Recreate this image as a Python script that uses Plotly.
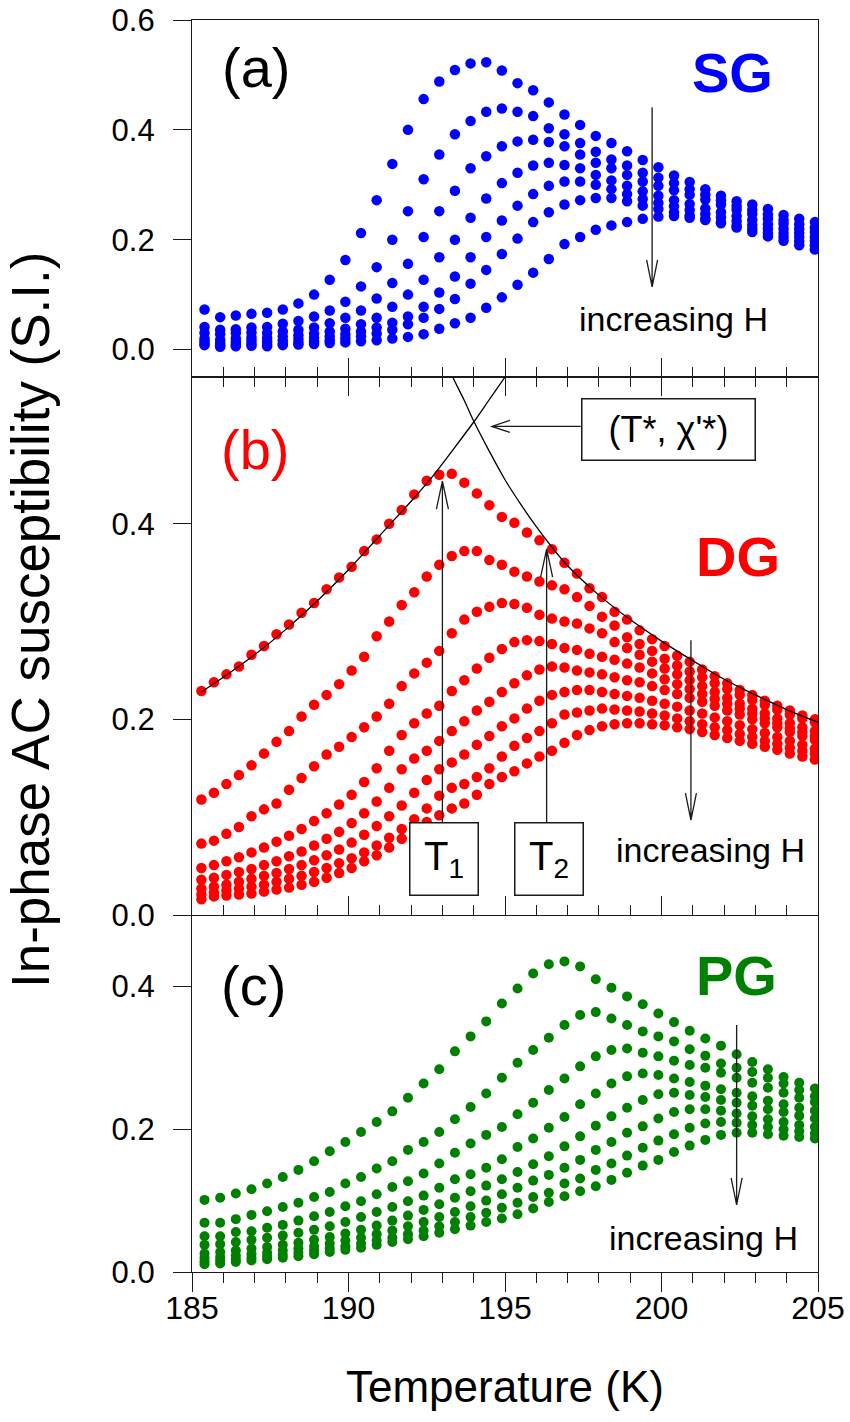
import math
import plotly.graph_objects as go

# ---------------- data ----------------
# Temperature (K) for panels (a) and (c)
T_A = [185.4, 185.9, 186.4, 186.9, 187.4, 187.9, 188.4, 188.9, 189.4, 189.9,
       190.4, 190.9, 191.4, 191.9, 192.4, 192.9, 193.4, 193.9, 194.4, 194.9,
       195.4, 195.9, 196.4, 196.9, 197.4, 197.9, 198.4, 198.9, 199.4, 199.9,
       200.4, 200.9, 201.4, 201.9, 202.4, 202.9, 203.4, 203.9, 204.4, 204.9]

# (a) SG, in-phase susceptibility for increasing field
SG_1 = [0.073, 0.059, 0.062, 0.065, 0.067, 0.073, 0.084, 0.100, 0.127, 0.163,
        0.212, 0.272, 0.338, 0.400, 0.456, 0.488, 0.509, 0.521, 0.523, 0.508,
        0.485, 0.472, 0.450, 0.428, 0.409, 0.389, 0.376, 0.361, 0.345, 0.332,
        0.317, 0.305, 0.292, 0.280, 0.270, 0.264, 0.256, 0.245, 0.238, 0.232]
SG_2 = [0.041, 0.036, 0.037, 0.040, 0.041, 0.047, 0.052, 0.060, 0.071, 0.087,
        0.115, 0.150, 0.200, 0.252, 0.310, 0.355, 0.392, 0.416, 0.433, 0.439,
        0.433, 0.425, 0.403, 0.392, 0.376, 0.360, 0.346, 0.335, 0.322, 0.313,
        0.303, 0.292, 0.282, 0.272, 0.262, 0.254, 0.246, 0.236, 0.228, 0.222]
SG_3 = [0.030, 0.028, 0.030, 0.031, 0.030, 0.033, 0.036, 0.040, 0.048, 0.058,
        0.071, 0.093, 0.121, 0.156, 0.205, 0.252, 0.289, 0.330, 0.352, 0.370,
        0.379, 0.382, 0.378, 0.370, 0.355, 0.340, 0.330, 0.318, 0.306, 0.298,
        0.290, 0.282, 0.273, 0.264, 0.255, 0.247, 0.238, 0.229, 0.220, 0.214]
SG_4 = [0.020, 0.018, 0.020, 0.022, 0.021, 0.024, 0.026, 0.029, 0.033, 0.038,
        0.046, 0.058, 0.078, 0.100, 0.127, 0.168, 0.200, 0.240, 0.275, 0.303,
        0.322, 0.335, 0.340, 0.336, 0.330, 0.318, 0.308, 0.298, 0.288, 0.280,
        0.272, 0.265, 0.257, 0.250, 0.243, 0.236, 0.228, 0.220, 0.212, 0.205]
SG_5 = [0.015, 0.012, 0.014, 0.016, 0.015, 0.017, 0.019, 0.021, 0.024, 0.028,
        0.033, 0.040, 0.049, 0.060, 0.078, 0.104, 0.133, 0.168, 0.205, 0.235,
        0.262, 0.283, 0.298, 0.306, 0.306, 0.300, 0.292, 0.283, 0.274, 0.267,
        0.261, 0.254, 0.247, 0.241, 0.234, 0.227, 0.220, 0.212, 0.205, 0.198]
SG_6 = [0.010, 0.008, 0.009, 0.010, 0.010, 0.011, 0.013, 0.015, 0.017, 0.020,
        0.024, 0.029, 0.036, 0.046, 0.058, 0.074, 0.092, 0.120, 0.145, 0.174,
        0.202, 0.232, 0.250, 0.264, 0.272, 0.276, 0.276, 0.270, 0.262, 0.256,
        0.250, 0.244, 0.238, 0.232, 0.226, 0.220, 0.212, 0.205, 0.197, 0.190]
SG_7 = [0.008, 0.005, 0.006, 0.007, 0.006, 0.008, 0.009, 0.010, 0.012, 0.013,
        0.015, 0.017, 0.020, 0.023, 0.028, 0.038, 0.048, 0.058, 0.076, 0.095,
        0.118, 0.140, 0.165, 0.192, 0.205, 0.218, 0.226, 0.232, 0.238, 0.242,
        0.243, 0.240, 0.236, 0.230, 0.222, 0.214, 0.206, 0.198, 0.190, 0.182]

# Temperature (K) for panel (b)
T_B = [185.3, 185.7, 186.1, 186.5, 186.9, 187.3, 187.7, 188.1, 188.5, 188.9,
       189.3, 189.7, 190.1, 190.5, 190.9, 191.3, 191.7, 192.1, 192.5, 192.9,
       193.3, 193.7, 194.1, 194.5, 194.9, 195.3, 195.7, 196.1, 196.5, 196.9,
       197.3, 197.7, 198.1, 198.5, 198.9, 199.3, 199.7, 200.1, 200.5, 200.9,
       201.3, 201.7, 202.1, 202.5, 202.9, 203.3, 203.7, 204.1, 204.5, 204.9]

# (b) DG
DG_1 = [0.229, 0.238, 0.246, 0.254, 0.266, 0.275, 0.287, 0.297, 0.309, 0.319,
        0.333, 0.345, 0.356, 0.372, 0.384, 0.400, 0.414, 0.430, 0.444, 0.450,
        0.451, 0.442, 0.431, 0.419, 0.407, 0.401, 0.391, 0.383, 0.374, 0.360,
        0.349, 0.334, 0.325, 0.310, 0.302, 0.291, 0.282, 0.275, 0.265, 0.259,
        0.251, 0.244, 0.237, 0.230, 0.225, 0.219, 0.214, 0.209, 0.204, 0.200]
DG_2 = [0.118, 0.125, 0.134, 0.143, 0.153, 0.165, 0.177, 0.188, 0.203, 0.215,
        0.225, 0.236, 0.250, 0.264, 0.285, 0.300, 0.317, 0.330, 0.346, 0.358,
        0.367, 0.372, 0.372, 0.363, 0.358, 0.351, 0.346, 0.341, 0.337, 0.333,
        0.325, 0.316, 0.305, 0.296, 0.284, 0.277, 0.270, 0.262, 0.255, 0.249,
        0.243, 0.237, 0.231, 0.225, 0.220, 0.215, 0.210, 0.205, 0.201, 0.197]
DG_3 = [0.073, 0.076, 0.083, 0.090, 0.101, 0.108, 0.114, 0.128, 0.140, 0.152,
        0.164, 0.172, 0.182, 0.192, 0.203, 0.216, 0.234, 0.247, 0.258, 0.270,
        0.288, 0.302, 0.310, 0.315, 0.319, 0.318, 0.314, 0.307, 0.303, 0.300,
        0.298, 0.293, 0.288, 0.279, 0.273, 0.266, 0.259, 0.252, 0.246, 0.240,
        0.234, 0.228, 0.222, 0.216, 0.211, 0.206, 0.201, 0.196, 0.192, 0.188]
DG_4 = [0.048, 0.051, 0.055, 0.059, 0.064, 0.069, 0.075, 0.081, 0.088, 0.096,
        0.104, 0.113, 0.123, 0.136, 0.150, 0.168, 0.184, 0.196, 0.206, 0.214,
        0.229, 0.240, 0.252, 0.263, 0.272, 0.279, 0.281, 0.280, 0.277, 0.273,
        0.271, 0.267, 0.264, 0.261, 0.257, 0.253, 0.247, 0.241, 0.236, 0.231,
        0.226, 0.221, 0.216, 0.211, 0.206, 0.201, 0.196, 0.191, 0.187, 0.183]
DG_5 = [0.036, 0.038, 0.041, 0.044, 0.047, 0.051, 0.055, 0.060, 0.065, 0.071,
        0.078, 0.085, 0.094, 0.104, 0.116, 0.130, 0.149, 0.160, 0.168, 0.178,
        0.188, 0.198, 0.209, 0.218, 0.228, 0.237, 0.245, 0.251, 0.254, 0.253,
        0.250, 0.248, 0.246, 0.243, 0.240, 0.238, 0.234, 0.230, 0.226, 0.222,
        0.218, 0.214, 0.209, 0.205, 0.200, 0.196, 0.192, 0.187, 0.183, 0.179]
DG_6 = [0.027, 0.029, 0.031, 0.034, 0.037, 0.040, 0.043, 0.047, 0.051, 0.056,
        0.061, 0.067, 0.074, 0.082, 0.091, 0.101, 0.112, 0.125, 0.138, 0.149,
        0.156, 0.164, 0.174, 0.183, 0.193, 0.201, 0.211, 0.219, 0.225, 0.228,
        0.230, 0.230, 0.228, 0.226, 0.224, 0.222, 0.219, 0.216, 0.213, 0.209,
        0.206, 0.202, 0.198, 0.194, 0.190, 0.186, 0.182, 0.178, 0.174, 0.170]
DG_7 = [0.021, 0.023, 0.025, 0.027, 0.029, 0.031, 0.034, 0.037, 0.040, 0.044,
        0.048, 0.053, 0.058, 0.064, 0.071, 0.079, 0.088, 0.098, 0.109, 0.122,
        0.130, 0.134, 0.141, 0.150, 0.162, 0.173, 0.181, 0.188, 0.196, 0.205,
        0.207, 0.209, 0.211, 0.210, 0.209, 0.208, 0.206, 0.204, 0.201, 0.198,
        0.195, 0.192, 0.189, 0.185, 0.182, 0.178, 0.175, 0.171, 0.168, 0.165]
DG_8 = [0.016, 0.019, 0.020, 0.021, 0.022, 0.024, 0.026, 0.028, 0.031, 0.034,
        0.038, 0.043, 0.048, 0.055, 0.061, 0.069, 0.078, 0.087, 0.095, 0.102,
        0.109, 0.114, 0.123, 0.134, 0.141, 0.147, 0.155, 0.162, 0.168, 0.176,
        0.184, 0.189, 0.193, 0.195, 0.196, 0.196, 0.195, 0.194, 0.192, 0.190,
        0.187, 0.184, 0.181, 0.178, 0.175, 0.172, 0.169, 0.165, 0.162, 0.159]

# Fitted branches below and above the peak in (b); they cross at (T*, chi'*)
FIT_LOW_T = [185.3, 186.0, 187.0, 188.0, 189.0, 190.0, 191.0, 192.0, 192.7,
             193.3, 194.0, 194.5, 195.0, 195.2]
FIT_LOW_CHI = [0.228, 0.243, 0.266, 0.292, 0.321, 0.353, 0.388, 0.423, 0.449,
               0.474, 0.504, 0.527, 0.550, 0.560]
FIT_HIGH_T = [193.2, 193.33, 193.7, 194.0, 194.5, 195.0, 195.5, 196.0, 196.5,
              197.0, 198.0, 199.0, 200.0, 201.0, 202.0, 203.0, 204.0, 205.0]
FIT_HIGH_CHI = [0.560, 0.550, 0.526, 0.505, 0.474, 0.445, 0.420, 0.397, 0.376,
                0.357, 0.327, 0.302, 0.280, 0.260, 0.241, 0.225, 0.210, 0.197]

# Temperature (K) for panel (c)
T_C = [185.4, 185.9, 186.4, 186.9, 187.4, 187.9, 188.4, 188.9, 189.4, 189.9,
       190.4, 190.9, 191.4, 191.9, 192.4, 192.9, 193.4, 193.9, 194.4, 194.9,
       195.4, 195.9, 196.4, 196.9, 197.4, 197.9, 198.4, 198.9, 199.4, 199.9,
       200.4, 200.9, 201.4, 201.9, 202.4, 202.9, 203.4, 203.9, 204.4, 204.9]

# (c) PG
PG_1 = [0.101, 0.104, 0.110, 0.116, 0.124, 0.133, 0.143, 0.155, 0.169, 0.182,
        0.196, 0.210, 0.225, 0.244, 0.264, 0.284, 0.309, 0.330, 0.351, 0.376,
        0.397, 0.418, 0.431, 0.435, 0.428, 0.410, 0.398, 0.386, 0.375, 0.362,
        0.350, 0.338, 0.327, 0.317, 0.305, 0.294, 0.284, 0.273, 0.265, 0.257]
PG_2 = [0.069, 0.069, 0.074, 0.080, 0.085, 0.091, 0.097, 0.105, 0.112, 0.124,
        0.133, 0.145, 0.155, 0.171, 0.182, 0.196, 0.214, 0.231, 0.250, 0.272,
        0.293, 0.311, 0.328, 0.346, 0.360, 0.364, 0.355, 0.346, 0.337, 0.330,
        0.323, 0.312, 0.303, 0.292, 0.286, 0.280, 0.272, 0.264, 0.255, 0.246]
PG_3 = [0.050, 0.050, 0.056, 0.057, 0.062, 0.066, 0.072, 0.078, 0.084, 0.092,
        0.099, 0.109, 0.119, 0.127, 0.138, 0.152, 0.167, 0.180, 0.192, 0.203,
        0.221, 0.237, 0.255, 0.271, 0.288, 0.302, 0.311, 0.313, 0.307, 0.302,
        0.296, 0.290, 0.286, 0.279, 0.272, 0.265, 0.258, 0.251, 0.244, 0.238]
PG_4 = [0.038, 0.039, 0.042, 0.045, 0.048, 0.051, 0.055, 0.059, 0.064, 0.070,
        0.077, 0.084, 0.091, 0.099, 0.107, 0.118, 0.130, 0.137, 0.146, 0.158,
        0.175, 0.187, 0.202, 0.217, 0.235, 0.250, 0.264, 0.274, 0.278, 0.276,
        0.271, 0.266, 0.261, 0.256, 0.251, 0.246, 0.240, 0.235, 0.230, 0.226]
PG_5 = [0.026, 0.028, 0.030, 0.033, 0.035, 0.038, 0.041, 0.045, 0.049, 0.054,
        0.059, 0.065, 0.072, 0.079, 0.087, 0.095, 0.104, 0.113, 0.121, 0.130,
        0.140, 0.151, 0.162, 0.176, 0.190, 0.205, 0.218, 0.230, 0.241, 0.249,
        0.251, 0.248, 0.245, 0.241, 0.237, 0.233, 0.228, 0.224, 0.219, 0.215]
PG_6 = [0.020, 0.021, 0.023, 0.025, 0.027, 0.030, 0.033, 0.036, 0.040, 0.044,
        0.048, 0.053, 0.058, 0.064, 0.070, 0.077, 0.084, 0.092, 0.100, 0.109,
        0.118, 0.128, 0.136, 0.146, 0.157, 0.171, 0.182, 0.195, 0.204, 0.215,
        0.224, 0.228, 0.228, 0.226, 0.222, 0.218, 0.214, 0.210, 0.206, 0.203]
PG_7 = [0.015, 0.016, 0.018, 0.020, 0.022, 0.024, 0.027, 0.030, 0.033, 0.036,
        0.040, 0.044, 0.048, 0.053, 0.058, 0.064, 0.070, 0.077, 0.083, 0.090,
        0.097, 0.105, 0.111, 0.124, 0.131, 0.143, 0.152, 0.163, 0.174, 0.184,
        0.193, 0.202, 0.208, 0.210, 0.209, 0.206, 0.203, 0.200, 0.197, 0.194]
PG_8 = [0.011, 0.012, 0.014, 0.016, 0.018, 0.020, 0.022, 0.025, 0.028, 0.031,
        0.034, 0.038, 0.042, 0.046, 0.050, 0.055, 0.060, 0.065, 0.070, 0.075,
        0.081, 0.089, 0.098, 0.106, 0.113, 0.120, 0.129, 0.139, 0.149, 0.157,
        0.168, 0.177, 0.185, 0.192, 0.195, 0.195, 0.193, 0.191, 0.189, 0.187]

X_TICK_VALUES = [185, 190, 195, 200, 205]
X_TICK_LABELS = ["185", "190", "195", "200", "205"]

# ---------------- layout constants ----------------
W, H = 850, 1422
M_L, M_R, M_T, M_B = 192, 32, 20, 150
PLOT_W = W - M_L - M_R
PLOT_H = H - M_T - M_B

X_RANGE = [185, 205]
Y_A, Y_B, Y_C = [-0.05, 0.6], [0.0, 0.55], [0.0, 0.5]
# panel borders sit on whole pixels
DOM_A = [895 / PLOT_H, 1.0]
DOM_B = [357 / PLOT_H, 895 / PLOT_H]
DOM_C = [0.0, 357 / PLOT_H]

FONT = "Liberation Sans, Arial, sans-serif"
BLUE, RED, GREEN = "#0000FF", "#FF0000", "#008000"
INK = "#1a1a1a"

PX_PER_K = PLOT_W / (X_RANGE[1] - X_RANGE[0])


def px_per_unit(dom, yr):
    return (dom[1] - dom[0]) * PLOT_H / (yr[1] - yr[0])


SY_A, SY_B, SY_C = px_per_unit(DOM_A, Y_A), px_per_unit(DOM_B, Y_B), px_per_unit(DOM_C, Y_C)


def arrow(xref, yref, tail, tip, sy, head_len=27, head_half=5.5, width=1.3):
    """Straight arrow with an open V head, in data coordinates."""
    (x0, y0), (x1, y1) = tail, tip
    dx, dy = (x1 - x0) * PX_PER_K, (y1 - y0) * sy
    L = math.hypot(dx, dy)
    ux, uy = dx / L, dy / L
    bx, by = -ux * head_len, -uy * head_len
    wx, wy = -uy * head_half, ux * head_half
    p1 = (x1 + (bx + wx) / PX_PER_K, y1 + (by + wy) / sy)
    p2 = (x1 + (bx - wx) / PX_PER_K, y1 + (by - wy) / sy)
    path = (f"M{x0},{y0} L{x1},{y1} "
            f"M{p1[0]},{p1[1]} L{x1},{y1} L{p2[0]},{p2[1]}")
    return dict(type="path", xref=xref, yref=yref, path=path,
                line=dict(color=INK, width=width), layer="above")


fig = go.Figure()


def add_points(xs, ys, color, xa, ya, size):
    fig.add_trace(go.Scatter(x=xs, y=ys, mode="markers", xaxis=xa, yaxis=ya,
                             marker=dict(size=size, color=color, line=dict(width=0)),
                             hoverinfo="skip", showlegend=False))


for s in [SG_1, SG_2, SG_3, SG_4, SG_5, SG_6, SG_7]:
    add_points(T_A, s, BLUE, "x", "y", 10.5)
for s in [DG_1, DG_2, DG_3, DG_4, DG_5, DG_6, DG_7, DG_8]:
    add_points(T_B, s, RED, "x2", "y2", 10.5)
for s in [PG_1, PG_2, PG_3, PG_4, PG_5, PG_6, PG_7, PG_8]:
    add_points(T_C, s, GREEN, "x3", "y3", 10)

for ft, fc in [(FIT_LOW_T, FIT_LOW_CHI), (FIT_HIGH_T, FIT_HIGH_CHI)]:
    fig.add_trace(go.Scatter(x=ft, y=fc, mode="lines", xaxis="x2", yaxis="y2",
                             line=dict(color="black", width=1.3, shape="spline"),
                             hoverinfo="skip", showlegend=False))

# ---------------- axes ----------------
def x_axis(anchor, ticks, mirror, labels=False, **kw):
    d = dict(anchor=anchor, range=X_RANGE, tickmode="array",
             tickvals=X_TICK_VALUES,
             ticks=ticks, ticklen=19, tickwidth=1.3, tickcolor=INK,
             minor=dict(dtick=1, tick0=185, ticks=ticks, ticklen=10,
                        tickwidth=1.3, tickcolor=INK, showgrid=False),
             showline=True, linecolor=INK, linewidth=1.3, mirror=mirror,
             showgrid=False, zeroline=False, showticklabels=labels,
             automargin=False,
             tickfont=dict(family=FONT, size=32, color="black"))
    if labels:
        d["ticktext"] = X_TICK_LABELS
        d["ticklabelstandoff"] = -12
    d.update(kw)
    return d


def y_axis(anchor, dom, rng):
    return dict(anchor=anchor, domain=dom, range=rng, tick0=0, dtick=0.2,
                tickformat=".1f", ticks="outside", ticklen=18, tickwidth=1.3,
                tickcolor=INK, showline=True, linecolor=INK, linewidth=1.3,
                mirror=True, showgrid=False, zeroline=False,
                ticklabelstandoff=12, automargin=False,
                tickfont=dict(family=FONT, size=31, color="black"))


layout = dict(
    width=W, height=H, margin=dict(l=M_L, r=M_R, t=M_T, b=M_B, autoexpand=False),
    paper_bgcolor="white", plot_bgcolor="white", showlegend=False,
    xaxis=x_axis("y", "inside", True),
    xaxis2=x_axis("y2", "inside", "ticks"),
    xaxis3=x_axis("y3", "outside", False, labels=True),
    xaxis4=x_axis("y3", "inside", False, overlaying="x3", side="top"),
    yaxis=y_axis("x", DOM_A, Y_A),
    yaxis2=y_axis("x2", DOM_B, Y_B),
    yaxis3=y_axis("x3", DOM_C, Y_C),
)
fig.update_layout(**layout)

# ---------------- annotations ----------------
ann = []


def text(x, y, s, size, color="black", xref="x", yref="y", **kw):
    d = dict(x=x, y=y, xref=xref, yref=yref, text=s, showarrow=False,
             font=dict(family=FONT, size=size, color=color),
             xanchor="center", yanchor="middle")
    d.update(kw)
    ann.append(d)


text(187.04, 0.513, "(a)", 56)
text(202.28, 0.504, "<b>SG</b>", 56, BLUE)
text(200.37, 0.056, "increasing H", 34)

text(187.01, 0.476, "(b)", 56, RED, "x2", "y2")
text(202.43, 0.366, "<b>DG</b>", 56, RED, "x2", "y2")
text(201.58, 0.066, "increasing H", 34, "black", "x2", "y2")

text(186.95, 0.401, "(c)", 56, "black", "x3", "y3")
text(202.40, 0.415, "<b>PG</b>", 56, GREEN, "x3", "y3")
text(201.33, 0.048, "increasing H", 34, "black", "x3", "y3")

box = dict(bordercolor=INK, borderwidth=1.5, borderpad=0, bgcolor="white")
text(193.04, 0.057, "T<sub>1</sub>", 40, "black", "x2", "y2", width=67, height=71, **box)
text(196.41, 0.057, "T<sub>2</sub>", 40, "black", "x2", "y2", width=67, height=71, **box)
text(200.23, 0.496, "(T*, \u03c7'*)", 36, "black", "x2", "y2", width=172, height=60, **box)

text(0.5, (1272 - 1386) / PLOT_H, "Temperature (K)", 44, xref="paper", yref="paper")
text((30 - M_L) / PLOT_W, (1272 - 620) / PLOT_H, "In-phase AC susceptibility (S.I.)",
     53, xref="paper", yref="paper", textangle=-90)

fig.update_layout(annotations=ann)

shapes = [
    arrow("x", "y", (199.7, 0.441), (199.7, 0.114), SY_A),
    arrow("x2", "y2", (200.94, 0.281), (200.94, 0.097), SY_B),
    arrow("x3", "y3", (202.4, 0.346), (202.4, 0.094), SY_C),
    arrow("x2", "y2", (193.0, 0.095), (193.0, 0.4435), SY_B, head_len=28, head_half=6),
    arrow("x2", "y2", (196.33, 0.095), (196.33, 0.374), SY_B, head_len=28, head_half=6),
    arrow("x2", "y2", (197.42, 0.4995), (194.58, 0.4995), SY_B, head_len=18, head_half=6),
]
fig.update_layout(shapes=shapes)

fig.write_html("out.html")
